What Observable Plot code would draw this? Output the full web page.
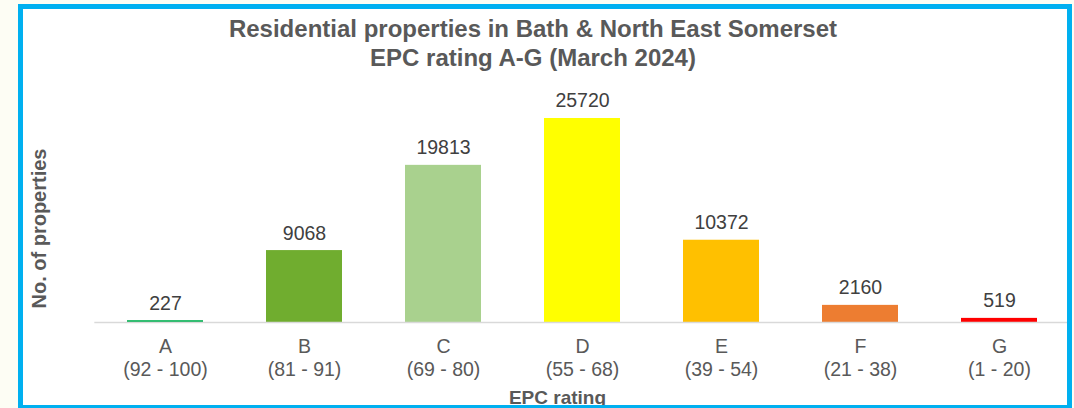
<!DOCTYPE html>
<html><head><meta charset="utf-8">
<script src="https://cdn.jsdelivr.net/npm/d3@7"></script>
<script src="https://cdn.jsdelivr.net/npm/@observablehq/plot@0.6"></script>
<style>
html,body{margin:0;padding:0;background:#fdfdf4;width:1074px;height:408px;overflow:hidden;font-family:"Liberation Sans",Arial,sans-serif;}
#paper{position:absolute;left:18px;top:4px;width:1054px;height:406px;background:#fff;}
#chart{position:absolute;left:0;top:0;}
#border{position:absolute;left:18px;top:4px;width:1044px;height:396px;border:5px solid #00b0f0;pointer-events:none;}
#title{position:absolute;left:183px;width:700px;top:14px;text-align:center;font-weight:bold;font-size:24px;line-height:29px;color:#595959;}
</style>
</head><body>
<div id="paper"></div>
<div id="chart"></div>
<div id="title">Residential properties in Bath &amp; North East Somerset<br>EPC rating A-G (March 2024)</div>
<div id="border"></div>
<script>
const ratings = ["A","B","C","D","E","F","G"];
const ranges = ["(92 - 100)","(81 - 91)","(69 - 80)","(55 - 68)","(39 - 54)","(21 - 38)","(1 - 20)"];
const counts = [227, 9068, 19813, 25720, 10372, 2160, 519];
const barColors = ["#00b050","#70ad2f","#a9d18e","#ffff00","#ffc000","#ed7d31","#ff0000"];
const data = ratings.map((r,i)=>({rating:r, range:ranges[i], count:counts[i]}));

const chart = Plot.plot({
  width:1074, height:408,
  marginLeft:94.33, marginRight:4.33, marginTop:84.05, marginBottom:86,
  style:{background:"transparent", fontFamily:"'Liberation Sans', Arial, sans-serif"},
  x:{domain:ratings, paddingInner:0.45, paddingOuter:0.225},
  y:{domain:[0,30000], axis:null},
  color:{domain:ratings, range:barColors},
  marks:[
    Plot.barY(data,{x:"rating", y:"count", fill:"rating"}),
    Plot.ruleY([0],{stroke:"#d9d9d9", strokeWidth:1.3}),
    Plot.text(data,{x:"rating", y:"count", text:d=>String(d.count), lineAnchor:"bottom", dy:-11, fontSize:19.5, fill:"#404040"}),
    Plot.axisX({tickSize:0, tickPadding:14.5, fontSize:19.5, lineHeight:1.16, color:"#595959", label:null,
      tickFormat:r=>r+"\n"+ranges[ratings.indexOf(r)]}),
    Plot.text(["No. of properties"],{frameAnchor:"left", textAnchor:"middle", rotate:-90, dx:-55.3, dy:25, fontSize:20, fontWeight:"bold", fill:"#595959", lineAnchor:"middle"}),
    Plot.text(["EPC rating"],{frameAnchor:"bottom", textAnchor:"middle", dx:-25, dy:75, fontSize:19, fontWeight:"bold", fill:"#595959", lineAnchor:"middle"})
  ]
});
document.getElementById("chart").appendChild(chart);
</script>
</body></html>
